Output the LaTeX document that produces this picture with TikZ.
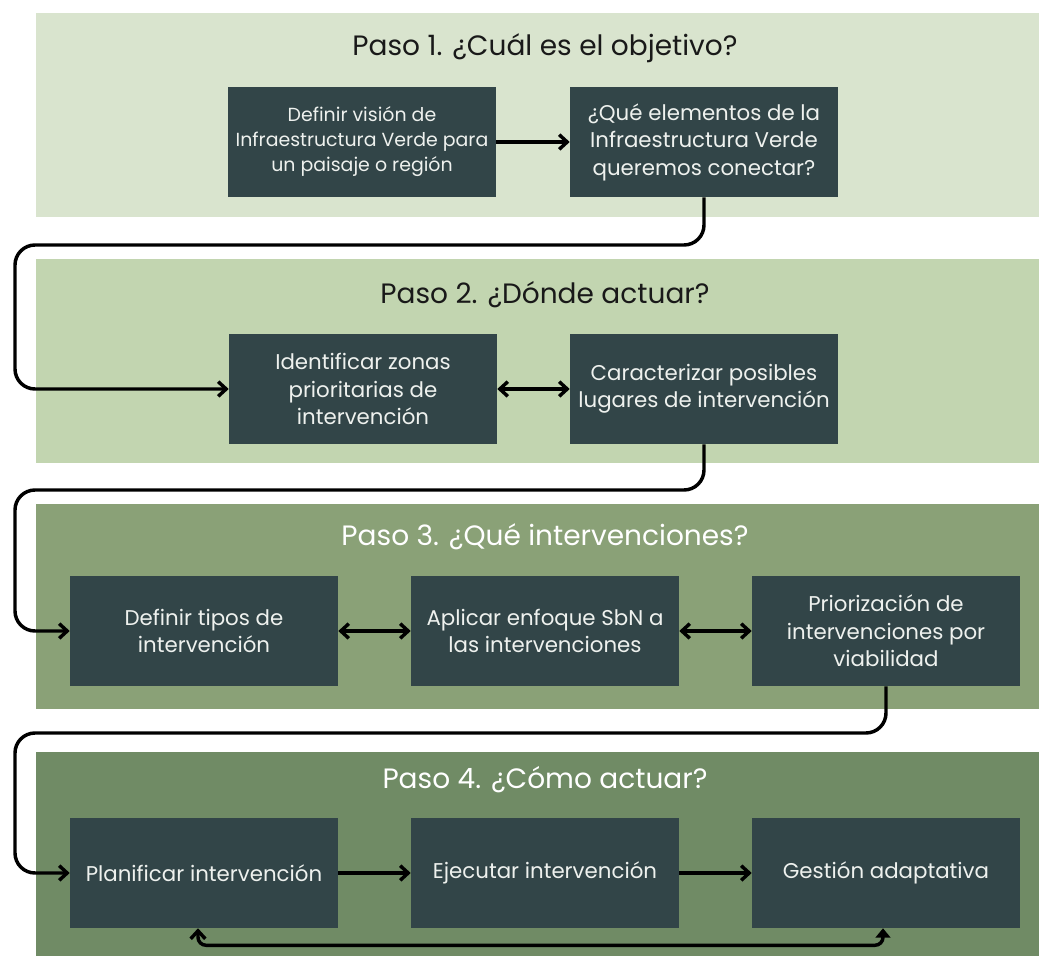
\documentclass[tikz,border=0pt]{standalone}
\usepackage{fontspec}
\setmainfont{Poppins}
\usetikzlibrary{positioning,arrows.meta,calc}
\definecolor{bandone}{HTML}{D9E4CE}
\definecolor{bandtwo}{HTML}{C2D5B0}
\definecolor{bandthree}{HTML}{8AA177}
\definecolor{bandfour}{HTML}{708B65}
\definecolor{boxdark}{HTML}{324548}
\definecolor{boxtext}{HTML}{EEF1EE}

\begin{document}
\begin{tikzpicture}[x=0.75pt, y=-0.75pt,
  stepbox/.style = {
    fill=boxdark, text=boxtext, align=center,
    minimum width=201pt, minimum height=82.5pt,
    inner sep=0pt, font=\fontsize{14.2}{18.8}\selectfont,
  },
  bigbox/.style = {stepbox, font=\fontsize{16}{20.6}\selectfont},
  title/.style = {font=\fontsize{21}{25}\selectfont},
  flow/.style = {line width=2.6pt, -{Straight Barb[length=6pt,width=11pt]}},
  both/.style = {line width=2.6pt, {Straight Barb[length=6pt,width=11pt]}-{Straight Barb[length=6pt,width=11pt]}},
]
  \useasboundingbox (0,0) rectangle (1039,956);
  \fill[white] (0,0) rectangle (1039,956);
  % bands
  \fill[bandone]   (36,13)  rectangle (1039,217);
  \fill[bandtwo]   (36,259) rectangle (1039,463);
  \fill[bandthree] (36,504) rectangle (1039,709);
  \fill[bandfour]  (36,752) rectangle (1039,956);

  \node[title, text=black!90] (t1) at (545,48)  {Paso 1. ¿Cuál es el objetivo?};
  \node[title, text=black!90] (t2) at (545,295) {Paso 2. ¿Dónde actuar?};
  \node[title, text=white]    (t3) at (545,537) {Paso 3. ¿Qué intervenciones?};
  \node[title, text=white]    (t4) at (545,780) {Paso 4. ¿Cómo actuar?};

  \node[stepbox] (a1) at (362,142) {Definir visión de\\Infraestructura Verde para\\un paisaje o región};
  \node[bigbox] (a2) at (704,142) {¿Qué elementos de la\\Infraestructura Verde\\queremos conectar?};

  \node[bigbox] (b1) at (363,389) {Identificar zonas\\prioritarias de\\intervención};
  \node[bigbox] (b2) at (704,389) {Caracterizar posibles\\lugares de intervención};

  \node[bigbox] (c1) at (204,631) {Definir tipos de\\intervención};
  \node[bigbox] (c2) at (545,631) {Aplicar enfoque SbN a\\las intervenciones};
  \node[bigbox] (c3) at (886,631) {Priorización de\\intervenciones por\\viabilidad};

  \node[bigbox] (d1) at (204,873) {Planificar intervención};
  \node[bigbox] (d2) at (545,873) {Ejecutar intervención};
  \node[bigbox] (d3) at (886,873) {Gestión adaptativa};

  % inside the bands
  \draw[flow] (a1) -- (a2);
  \draw[both] (b1) -- (b2);
  \draw[both] (c1) -- (c2);
  \draw[both] (c2) -- (c3);
  \draw[flow] (d1) -- (d2);
  \draw[flow] (d2) -- (d3);

  % between the bands
  \draw[flow, rounded corners=15pt]
    (a2.south) -- (a2.south |- 0,245) -- (15,245) -- (15,389) -- (b1.west);
  \draw[flow, rounded corners=15pt]
    (b2.south) -- (b2.south |- 0,490) -- (15,490) -- (15,631) -- (c1.west);
  \draw[flow, rounded corners=15pt]
    (c3.south) -- (c3.south |- 0,733) -- (15,733) -- (15,873) -- (d1.west);

  % feedback
  \draw[line width=2.6pt, {Triangle[length=7pt,width=11pt]}-{Straight Barb[length=6pt,width=11pt]}, rounded corners=6pt]
    ([xshift=-2.25pt]d3.south) -- ++(0,17) -| ([xshift=-4.5pt]d1.south);
\end{tikzpicture}
\end{document}
